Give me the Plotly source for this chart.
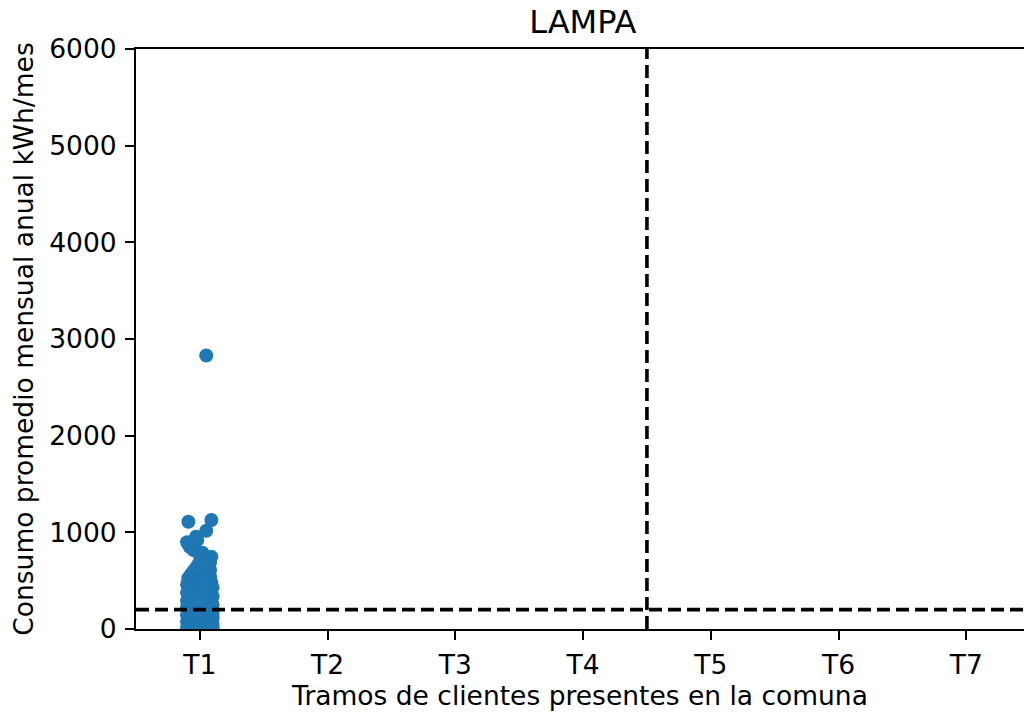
import plotly.graph_objects as go

# ---- data ----
tramos = ["T1", "T2", "T3", "T4", "T5", "T6", "T7"]
tramo_idx = [0, 1, 2, 3, 4, 5, 6]

# consumption values of the clients of tramo T1 (kWh/mes)
consumo_T1 = [
    2830, 1128, 1110, 1017, 955, 920, 897, 870, 850, 838, 817, 790, 760, 748,
    720, 705, 690, 672, 660, 645, 635, 620, 610, 598, 585, 575, 565, 555, 545,
    535, 525, 515, 508,
    500, 495, 488, 480, 472, 465, 458, 450, 442, 435, 428, 420, 412, 405, 398,
    390, 382, 375, 368, 360, 352, 345, 338, 330, 322, 315, 308, 300, 292, 285,
    278, 270, 262, 255, 248, 240, 232, 225, 218, 210, 202, 195, 188, 180, 172,
    165, 158, 150, 142, 135, 128, 120, 112, 105, 98, 90, 82, 75, 68, 60, 52,
    45, 38, 30, 22, 15, 8, 3,
]
# horizontal jitter (strip plot offset around the category position)
jitter_T1 = [
    0.05, 0.09, -0.09, 0.05, -0.03, -0.02, -0.1, -0.06, -0.08, -0.04, -0.05, 0.02, 0.0, 0.09,
    0.06, 0.02, 0.08, -0.01, 0.05, 0.07, -0.03, 0.03, 0.08, -0.05, 0.0, 0.06, -0.07, 0.04, -0.02,
    0.08, -0.09, 0.02, -0.06,
    -0.09, 0.06, -0.02, 0.09, -0.06, 0.03, -0.1, 0.08, 0.0, -0.04, 0.1, -0.08, 0.05, -0.01, 0.07,
    -0.07, 0.02, -0.1, 0.09, -0.03, 0.04, -0.09, 0.1, -0.05, 0.01, 0.08, -0.07, 0.05, -0.1, 0.03,
    0.09, -0.02, -0.08, 0.06, 0.1, -0.04, 0.0, -0.1, 0.07, -0.06, 0.04, 0.09, -0.09, 0.02, -0.03,
    0.1, -0.07, 0.06, -0.1, 0.01, 0.08, -0.05, 0.1, -0.08, 0.03, -0.01, 0.09, -0.1, 0.05, -0.06,
    0.1, -0.09, 0.07, -0.03, 0.02, -0.1, 0.1, 0.0,
]

umbral_consumo = 200
limite_tramo = 3.5

n = min(len(consumo_T1), len(jitter_T1))
x_T1 = [tramo_idx[0] + j for j in jitter_T1[:n]]

FONT = "DejaVu Sans"
FS = 26.5

fig = go.Figure()
fig.add_trace(go.Scatter(
    x=x_T1, y=consumo_T1[:n], mode="markers",
    marker=dict(color="#1f77b4", size=14, line=dict(width=0)),
    showlegend=False,
))

# reference lines
dash_line = dict(color="black", width=3.6, dash="13px,6px")
fig.add_hline(y=umbral_consumo, line=dash_line)
fig.add_vline(x=limite_tramo, line=dash_line)

fig.update_layout(
    width=1026, height=713,
    margin=dict(l=136, r=2, t=49, b=84),
    plot_bgcolor="white", paper_bgcolor="white",
    font=dict(family=FONT, size=FS, color="black"),
    title=dict(text="LAMPA", x=0.568, xref="container", xanchor="center",
               y=1 - 22 / 713, yref="container", yanchor="middle",
               font=dict(family=FONT, size=32, color="black")),
    xaxis=dict(
        range=[-0.5, 6.452], tickmode="array", tickvals=tramo_idx, ticktext=tramos,
        showgrid=False, zeroline=False, showline=True, linecolor="black", linewidth=2,
        mirror=True, ticks="outside", ticklen=9, tickwidth=2, tickcolor="black",
        ticklabelstandoff=2,
        title=dict(text="Tramos de clientes presentes en la comuna", standoff=6,
                   font=dict(size=FS)),
        tickfont=dict(size=FS),
    ),
    yaxis=dict(
        range=[0, 6000], tickmode="array", tickvals=[0, 1000, 2000, 3000, 4000, 5000, 6000],
        showgrid=False, zeroline=False, showline=True, linecolor="black", linewidth=2,
        ticks="outside", ticklen=9, tickwidth=2, tickcolor="black",
        ticklabelstandoff=3,
        title=dict(text="Consumo promedio mensual anual kWh/mes", standoff=8,
                   font=dict(size=FS)),
        tickfont=dict(size=FS),
    ),
)

fig.write_html("out.html")
